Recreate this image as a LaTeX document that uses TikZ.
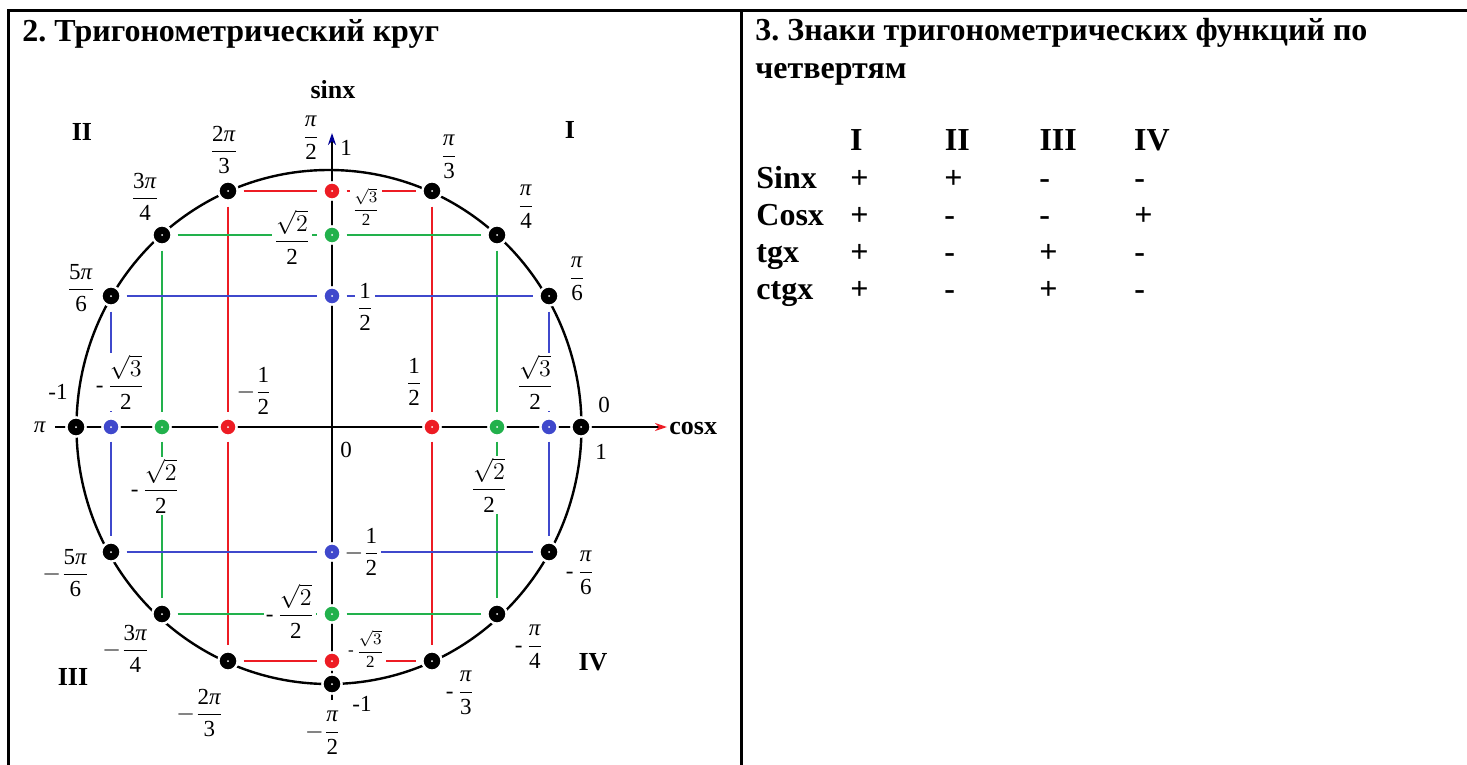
\documentclass[tikz,border=0pt]{standalone}
\usepackage{amsmath}
\usepackage{fontspec}
\setmainfont{Liberation Serif}
\usepackage{tikz}
\usetikzlibrary{arrows.meta}
\definecolor{pred}{RGB}{237,28,36}
\definecolor{pgreen}{RGB}{34,177,76}
\definecolor{pblue}{RGB}{63,72,204}
\definecolor{pnavy}{RGB}{0,0,150}
\newcommand\ppi{\textit{π}}
\newcommand\fr[2]{$\displaystyle\frac{\text{#1}}{\text{#2}}$}
\newcommand\mfr[2]{$\displaystyle-\frac{\text{#1}}{\text{#2}}$}
\newcommand\hfr[2]{$\displaystyle\text{-}\,\frac{\text{#1}}{\text{#2}}$}
\frenchspacing

\begin{document}
\begin{tikzpicture}[
    x=0.5pt, y=-0.5pt,
    frame/.style={line width=1.5pt},
    circline/.style={line width=1.2pt},
    axisline/.style={line width=1.2pt},
    redl/.style={line width=1.3pt, pred},
    greenl/.style={line width=1.3pt, pgreen},
    bluel/.style={line width=1.3pt, pblue},
    bdot/.style={circle, fill=black, draw=white, line width=1.2pt, minimum size=9.6pt, inner sep=0pt, outer sep=3pt,
      path picture={\fill[white] (path picture bounding box.center) circle (0.5pt);}},
    cdot/.style={bdot, minimum size=8.6pt},
    lbl/.style={fill=white, inner sep=1pt, font=\fontsize{11.5}{13}\selectfont},
    slbl/.style={lbl, font=\fontsize{8.5}{10}\selectfont},
    ql/.style={inner sep=0pt, font=\fontsize{13}{15}\selectfont\bfseries},
    axl/.style={inner sep=0pt, font=\fontsize{13}{15}\selectfont\bfseries},
    ttl/.style={anchor=base west, inner sep=0pt, font=\fontsize{16}{19}\selectfont\bfseries},
  ]
  \useasboundingbox (0,0) rectangle (1467,765);
  % table frame
  \draw[frame] (8,765) -- (8,10.5) -- (1467,10.5);
  \draw[frame] (741,10.5) -- (741,765);
  \node[ttl] (t2) at (22,42) {2. Тригонометрический круг};
  \node[ttl] (t3) at (755,41) {3. Знаки тригонометрических функций по};
  \node[ttl] (t3b) at (755,79) {четвертям};

  % circle and axes
  \draw[circline] (329,427) ellipse [x radius=252.5, y radius=257];
  \coordinate (ybot) at (332,700);
  \coordinate (ytop) at (332,133);
  \coordinate (xbeg) at (55,427);
  \coordinate (xend) at (667,427);
  \draw[axisline, -{Stealth[length=6pt, width=4pt, color=pnavy]}] (ybot) -- (ytop);
  \draw[axisline, -{Stealth[length=6pt, width=4pt, color=pred]}] (xbeg) -- (xend);

  % points on the circle
  \foreach \n/\x/\y in {d0/581/427, d30/549/296, d45/497/235, d60/432/191, d120/228/191,
      d135/162/235, d150/111/296, d180/76/427, dm30/549/552, dm45/497/614, dm60/432/661,
      dm90/332/684, dm120/228/661, dm135/162/614, dm150/111/552}
    \node[bdot] (\n) at (\x,\y) {};
  % sin and cos points
  \foreach \n/\x/\y/\c in {sR/332/191/pred, sG/332/235/pgreen, sB/332/296/pblue,
      msB/332/552/pblue, msG/332/614/pgreen, msR/332/661/pred,
      cR/432/427/pred, cG/497/427/pgreen, cB/549/427/pblue,
      mcR/228/427/pred, mcG/162/427/pgreen, mcB/111/427/pblue}
    \node[cdot, fill=\c] (\n) at (\x,\y) {};

  % projections
  \foreach \cl/\l/\r/\k in {redl/120/60/R, greenl/135/45/G, bluel/150/30/B}
    \foreach \a/\b in {d\l/s\k, s\k/d\r, d\l/mc\k, mc\k/dm\l, d\r/c\k, c\k/dm\r, dm\l/ms\k, ms\k/dm\r}
      \draw[\cl] (\a) -- (\b);

  % angle labels
  \node[lbl] (l120) at (224,150) {\fr{2\ppi}{3}};
  \node[lbl] (l90) at (311,138) {\fr{\ppi}{2}};
  \node[lbl] (lone) at (346,148) {1};
  \node[lbl] (l60) at (449,157) {\fr{\ppi}{3}};
  \node[lbl] (l135) at (145,197) {\fr{3\ppi}{4}};
  \node[lbl] (l45) at (526,207) {\fr{\ppi}{4}};
  \node[lbl] (l150) at (81,288) {\fr{5\ppi}{6}};
  \node[lbl] (l30) at (577,279) {\fr{\ppi}{6}};
  \node[lbl] (lmone) at (58,392) {-1};
  \node[lbl] (lpi) at (40,427) {\ppi};
  \node[lbl] (lzero) at (604,405) {0};
  \node[lbl] (lonex) at (601,452) {1};
  \node[lbl] (lorig) at (346,450) {0};
  \node[lbl] (lm150) at (66,573) {\mfr{5\ppi}{6}};
  \node[lbl] (lm30) at (580,573) {\hfr{\ppi}{6}};
  \node[lbl] (lm135) at (126,649) {\mfr{3\ppi}{4}};
  \node[lbl] (lm45) at (529,647) {\hfr{\ppi}{4}};
  \node[lbl] (lm120) at (200,713) {\mfr{2\ppi}{3}};
  \node[lbl] (lm60) at (460,693) {\hfr{\ppi}{3}};
  \node[lbl] (lmonev) at (362,704) {-1};
  \node[lbl] (lm90) at (323,733) {\mfr{\ppi}{2}};

  % cos values
  \node[lbl] (cmB) at (120,382) {\hfr{$\sqrt{3}$}{2}};
  \node[lbl] (cmR) at (254,391) {\mfr{1}{2}};
  \node[lbl] (cpR) at (414,382) {\fr{1}{2}};
  \node[lbl] (cpB) at (535,382) {\fr{$\sqrt{3}$}{2}};
  \node[lbl] (cmG) at (155,486) {\hfr{$\sqrt{2}$}{2}};
  \node[lbl] (cpG) at (489,485) {\fr{$\sqrt{2}$}{2}};
  % sin values
  \node[slbl] (spR) at (366,207) {\fr{$\sqrt{3}$}{2}};
  \node[lbl] (spG) at (292,237) {\fr{$\sqrt{2}$}{2}};
  \node[lbl] (spB) at (365,307) {\fr{1}{2}};
  \node[lbl] (smB) at (362,552) {\mfr{1}{2}};
  \node[lbl] (smG) at (290,611) {\hfr{$\sqrt{2}$}{2}};
  \node[slbl] (smR) at (366,649) {\hfr{$\sqrt{3}$}{2}};

  % quarters and axis names
  \node[ql] (qI) at (570,130) {I};
  \node[ql] (qII) at (82,132) {II};
  \node[ql] (qIII) at (73,677) {III};
  \node[ql] (qIV) at (593,662) {IV};
  \node[axl] (lsin) at (333,90) {sinx};
  \node[axl, anchor=west] (lcos) at (669,428) {cosx};

  % signs table
  \foreach \h [count=\i] in {I,II,III,IV}
    \node[ttl] (h\i) at (755+94.7*\i,150) {\h};
  \foreach \f/\a/\b/\c/\d [count=\j] in {Sinx/+/+/-/-, Cosx/+/-/-/+, tgx/+/-/+/-, ctgx/+/-/+/-} {
    \node[ttl] (f\j) at (756,151+37*\j) {\f};
    \node[ttl] (sg\j-1) at (850,151+37*\j) {\a};
    \node[ttl] (sg\j-2) at (944,151+37*\j) {\b};
    \node[ttl] (sg\j-3) at (1039,151+37*\j) {\c};
    \node[ttl] (sg\j-4) at (1134,151+37*\j) {\d};
  }
\end{tikzpicture}
\end{document}
